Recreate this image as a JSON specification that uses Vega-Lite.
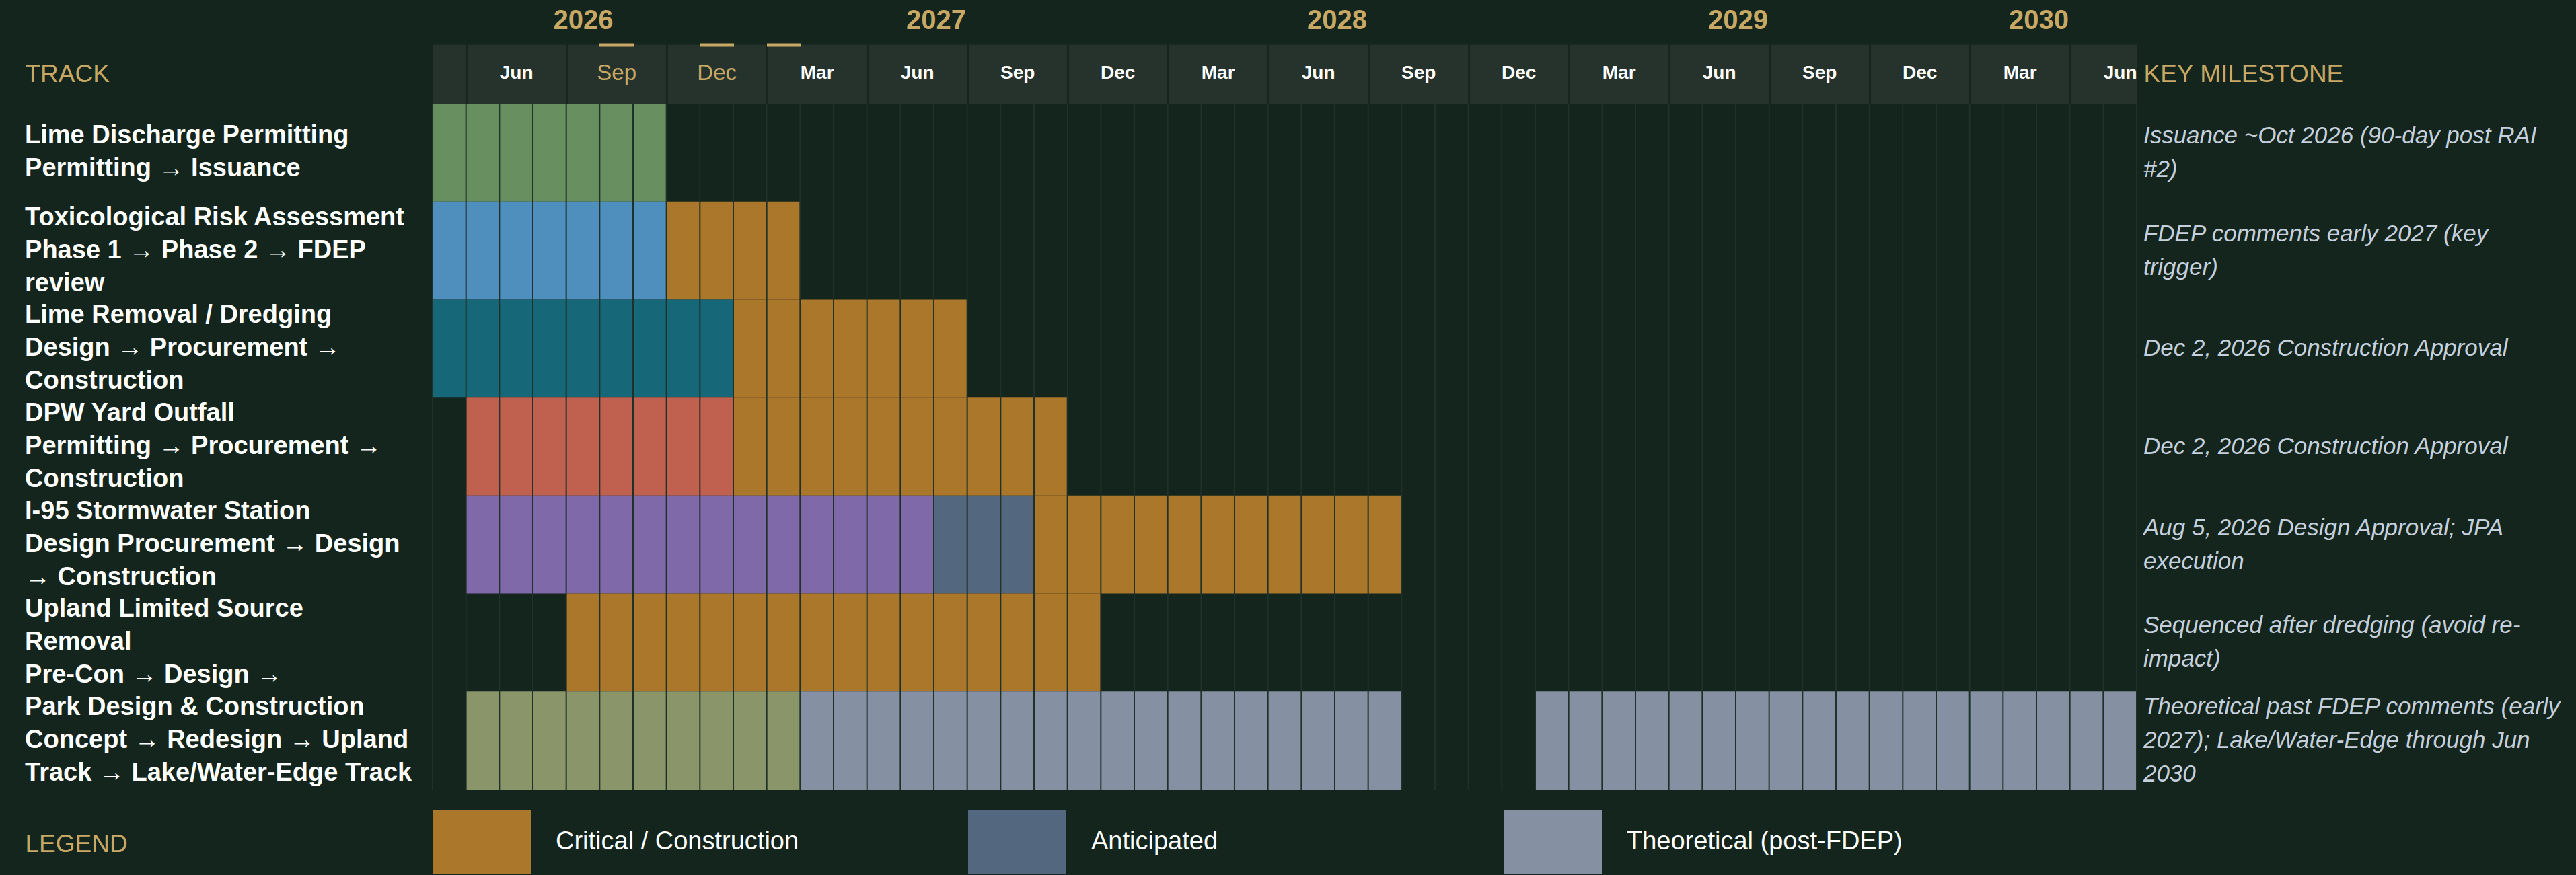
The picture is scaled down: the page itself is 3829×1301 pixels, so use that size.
{
  "$schema": "https://vega.github.io/schema/vega-lite/v6.json",
  "width": 2533,
  "height": 1020,
  "autosize": {"type": "none"},
  "padding": {"left": 643, "top": 154, "right": 653, "bottom": 127},
  "background": "#13251c",
  "config": {
    "view": {"stroke": null},
    "font": "Liberation Sans",
    "axis": {"labelFont": "Liberation Sans", "titleFont": "Liberation Sans"},
    "legend": {"labelFont": "Liberation Sans", "titleFont": "Liberation Sans"}
  },
  "datasets": {
    "tracks": [
      {"track": "Lime Discharge Permitting", "label": "Lime Discharge Permitting\nPermitting → Issuance", "milestone": "Issuance ~Oct 2026 (90-day post RAI\n#2)"},
      {"track": "Toxicological Risk Assessment", "label": "Toxicological Risk Assessment\nPhase 1 → Phase 2 → FDEP\nreview", "milestone": "FDEP comments early 2027 (key\ntrigger)"},
      {"track": "Lime Removal / Dredging", "label": "Lime Removal / Dredging\nDesign → Procurement →\nConstruction", "milestone": "Dec 2, 2026 Construction Approval"},
      {"track": "DPW Yard Outfall", "label": "DPW Yard Outfall\nPermitting → Procurement →\nConstruction", "milestone": "Dec 2, 2026 Construction Approval"},
      {"track": "I-95 Stormwater Station", "label": "I-95 Stormwater Station\nDesign Procurement → Design\n→ Construction", "milestone": "Aug 5, 2026 Design Approval; JPA\nexecution"},
      {"track": "Upland Limited Source Removal", "label": "Upland Limited Source\nRemoval\nPre-Con → Design →", "milestone": "Sequenced after dredging (avoid re-\nimpact)"},
      {"track": "Park Design & Construction", "label": "Park Design & Construction\nConcept → Redesign → Upland\nTrack → Lake/Water-Edge Track", "milestone": "Theoretical past FDEP comments (early\n2027); Lake/Water-Edge through Jun\n2030"}
    ],
    "bars": [
      {"track": "Lime Discharge Permitting", "start": 0, "end": 7, "phase": "Lime Discharge"},
      {"track": "Toxicological Risk Assessment", "start": 0, "end": 7, "phase": "Toxicological"},
      {"track": "Toxicological Risk Assessment", "start": 7, "end": 11, "phase": "Critical / Construction"},
      {"track": "Lime Removal / Dredging", "start": 0, "end": 9, "phase": "Lime Removal"},
      {"track": "Lime Removal / Dredging", "start": 9, "end": 16, "phase": "Critical / Construction"},
      {"track": "DPW Yard Outfall", "start": 1, "end": 9, "phase": "DPW Yard"},
      {"track": "DPW Yard Outfall", "start": 9, "end": 19, "phase": "Critical / Construction"},
      {"track": "I-95 Stormwater Station", "start": 1, "end": 15, "phase": "I-95"},
      {"track": "I-95 Stormwater Station", "start": 15, "end": 18, "phase": "Anticipated"},
      {"track": "I-95 Stormwater Station", "start": 18, "end": 29, "phase": "Critical / Construction"},
      {"track": "Upland Limited Source Removal", "start": 4, "end": 20, "phase": "Critical / Construction"},
      {"track": "Park Design & Construction", "start": 1, "end": 11, "phase": "Park"},
      {"track": "Park Design & Construction", "start": 11, "end": 29, "phase": "Theoretical (post-FDEP)"},
      {"track": "Park Design & Construction", "start": 33, "end": 51, "phase": "Theoretical (post-FDEP)"}
    ],
    "gridMonths": [
      {"m": 0}, {"m": 1}, {"m": 2}, {"m": 3}, {"m": 4}, {"m": 5}, {"m": 6}, {"m": 7}, {"m": 8}, {"m": 9},
      {"m": 10}, {"m": 11}, {"m": 12}, {"m": 13}, {"m": 14}, {"m": 15}, {"m": 16}, {"m": 17}, {"m": 18}, {"m": 19},
      {"m": 20}, {"m": 21}, {"m": 22}, {"m": 23}, {"m": 24}, {"m": 25}, {"m": 26}, {"m": 27}, {"m": 28}, {"m": 29},
      {"m": 30}, {"m": 31}, {"m": 32}, {"m": 33}, {"m": 34}, {"m": 35}, {"m": 36}, {"m": 37}, {"m": 38}, {"m": 39},
      {"m": 40}, {"m": 41}, {"m": 42}, {"m": 43}, {"m": 44}, {"m": 45}, {"m": 46}, {"m": 47}, {"m": 48}, {"m": 49},
      {"m": 50}, {"m": 51}
    ]
  },
  "resolve": {"axis": {"x": "independent"}},
  "layer": [
    {
      "data": {"name": "bars"},
      "mark": {"type": "rect"},
      "encoding": {
        "x": {
          "field": "start", "type": "quantitative",
          "scale": {"domain": [0, 51], "nice": false, "zero": false},
          "axis": {
            "orient": "top", "offset": 44,
            "values": [1, 4, 7, 10, 13, 16, 19, 22, 25, 28, 31, 34, 37, 40, 43, 46, 49],
            "labelExpr": "['Jun','Sep','Dec','Mar'][((datum.value - 1) / 3) % 4]",
            "domain": false, "ticks": false, "tickSize": 0, "grid": false,
            "labelOffset": 74.5, "labelPadding": 2, "labelBaseline": "middle", "labelAlign": "center",
            "labelFlush": false, "labelOverlap": false, "labelBound": false,
            "labelFontSize": {"condition": {"test": "datum.value == 4 || datum.value == 7", "value": 33}, "value": 28},
            "labelFontWeight": {"condition": {"test": "datum.value == 4 || datum.value == 7", "value": "normal"}, "value": "bold"},
            "labelColor": {"condition": {"test": "datum.value == 4 || datum.value == 7", "value": "#c8a865"}, "value": "#ffffff"},
            "title": "TRACK", "titleX": -606, "titleY": 0, "titleAlign": "left", "titleBaseline": "middle", "titleAngle": 0,
            "titleColor": "#c8a865", "titleFontSize": 37, "titleFontWeight": "normal",
            "zindex": 1
          }
        },
        "x2": {"field": "end"},
        "y": {
          "field": "track", "type": "nominal",
          "scale": {"domain": ["Lime Discharge Permitting", "Toxicological Risk Assessment", "Lime Removal / Dredging", "DPW Yard Outfall", "I-95 Stormwater Station", "Upland Limited Source Removal", "Park Design & Construction"], "paddingInner": 0, "paddingOuter": 0},
          "axis": null
        },
        "color": {
          "field": "phase", "type": "nominal",
          "scale": {
            "domain": ["Lime Discharge", "Toxicological", "Lime Removal", "DPW Yard", "I-95", "Park", "Critical / Construction", "Anticipated", "Theoretical (post-FDEP)"],
            "range": ["#688f5f", "#4f8fbe", "#166878", "#c0604f", "#7f69a9", "#8a966a", "#ab772a", "#53687f", "#8591a2"]
          },
          "legend": {
            "values": ["Critical / Construction", "Anticipated", "Theoretical (post-FDEP)"],
            "orient": "none", "legendX": 0, "legendY": 1025,
            "direction": "horizontal", "columns": 3, "gridAlign": "all", "columnPadding": 203,
            "symbolType": "M-1,-0.6575H1V0.6575H-1Z", "symbolSize": 21316, "symbolStrokeWidth": 0, "symbolOpacity": 1,
            "labelOffset": 37, "labelFontSize": 38, "labelColor": "#ffffff", "labelLimit": 0,
            "title": null
          }
        }
      }
    },
    {
      "data": {"name": "gridMonths"},
      "mark": {"type": "rule", "color": "#203129", "strokeWidth": 2},
      "encoding": {
        "x": {
          "field": "m", "type": "quantitative",
          "axis": {
            "orient": "top", "offset": 0,
            "values": [1, 4, 7, 10, 13, 16, 19, 22, 25, 28, 31, 34, 37, 40, 43, 46, 49],
            "domain": false, "labels": false, "grid": false,
            "ticks": true, "tickSize": 88, "tickWidth": 3, "tickColor": "#16251d",
            "title": "KEY MILESTONE", "titleX": 2543, "titleY": -44, "titleAlign": "left", "titleBaseline": "middle", "titleAngle": 0,
            "titleColor": "#c8a865", "titleFontSize": 37, "titleFontWeight": "normal",
            "zindex": 1
          }
        }
      }
    },
    {
      "data": {"name": "tracks"},
      "transform": [{"filter": "length(split(datum.label, '\\n')) == 2"}],
      "mark": {"type": "text", "align": "left", "baseline": "middle", "lineBreak": "\n", "lineHeight": 49, "dy": -24.5, "fontSize": 38, "fontWeight": "bold", "color": "#ffffff"},
      "encoding": {
        "x": {
          "datum": -12.2, "type": "quantitative",
          "axis": {
            "orient": "top", "offset": 44,
            "values": [4.5, 15.06, 27.06, 39.06, 48.06],
            "labelExpr": "'' + (2026 + floor((datum.value + 4) / 12))",
            "domain": true, "domainColor": "#25332c", "domainWidth": 88, "domainCap": "butt",
            "ticks": false, "tickSize": 0, "grid": false,
            "labelPadding": 80, "labelBaseline": "middle", "labelAlign": "center",
            "labelFlush": false, "labelOverlap": false, "labelBound": false,
            "labelFontSize": 40, "labelFontWeight": "bold", "labelColor": "#c8a865",
            "title": null, "zindex": 0
          }
        },
        "y": {"field": "track", "type": "nominal", "axis": null},
        "text": {"field": "label"}
      }
    },
    {
      "data": {"name": "tracks"},
      "transform": [{"filter": "length(split(datum.label, '\\n')) == 3"}],
      "mark": {"type": "text", "align": "left", "baseline": "middle", "lineBreak": "\n", "lineHeight": 49, "dy": -49, "fontSize": 38, "fontWeight": "bold", "color": "#ffffff"},
      "encoding": {
        "x": {
          "datum": -12.2, "type": "quantitative",
          "axis": {
            "orient": "top", "offset": 85,
            "values": [5.5, 8.5, 10.5],
            "domain": false, "labels": false, "grid": false,
            "ticks": true, "tickSize": 5, "tickWidth": 51, "tickColor": "#c8a865", "tickCap": "butt",
            "title": null, "zindex": 1
          }
        },
        "y": {"field": "track", "type": "nominal", "axis": null},
        "text": {"field": "label"}
      }
    },
    {
      "data": {"name": "tracks"},
      "transform": [{"filter": "length(split(datum.milestone, '\\n')) == 1"}],
      "mark": {"type": "text", "align": "left", "baseline": "middle", "lineBreak": "\n", "lineHeight": 50, "fontSize": 35, "fontStyle": "italic", "color": "#c5d0dc"},
      "encoding": {
        "x": {
          "datum": 51.2, "type": "quantitative",
          "axis": {
            "orient": "bottom", "offset": 0,
            "domain": false, "labels": false, "grid": false, "ticks": false,
            "title": "LEGEND", "titleX": -606, "titleY": 81, "titleAlign": "left", "titleBaseline": "middle", "titleAngle": 0,
            "titleColor": "#c8a865", "titleFontSize": 37, "titleFontWeight": "normal"
          }
        },
        "y": {"field": "track", "type": "nominal", "axis": null},
        "text": {"field": "milestone"}
      }
    },
    {
      "data": {"name": "tracks"},
      "transform": [{"filter": "length(split(datum.milestone, '\\n')) == 2"}],
      "mark": {"type": "text", "align": "left", "baseline": "middle", "lineBreak": "\n", "lineHeight": 50, "dy": -25, "fontSize": 35, "fontStyle": "italic", "color": "#c5d0dc"},
      "encoding": {
        "x": {"datum": 51.2, "type": "quantitative", "axis": null},
        "y": {"field": "track", "type": "nominal", "axis": null},
        "text": {"field": "milestone"}
      }
    },
    {
      "data": {"name": "tracks"},
      "transform": [{"filter": "length(split(datum.milestone, '\\n')) == 3"}],
      "mark": {"type": "text", "align": "left", "baseline": "middle", "lineBreak": "\n", "lineHeight": 50, "dy": -50, "fontSize": 35, "fontStyle": "italic", "color": "#c5d0dc"},
      "encoding": {
        "x": {"datum": 51.2, "type": "quantitative", "axis": null},
        "y": {"field": "track", "type": "nominal", "axis": null},
        "text": {"field": "milestone"}
      }
    }
  ]
}
